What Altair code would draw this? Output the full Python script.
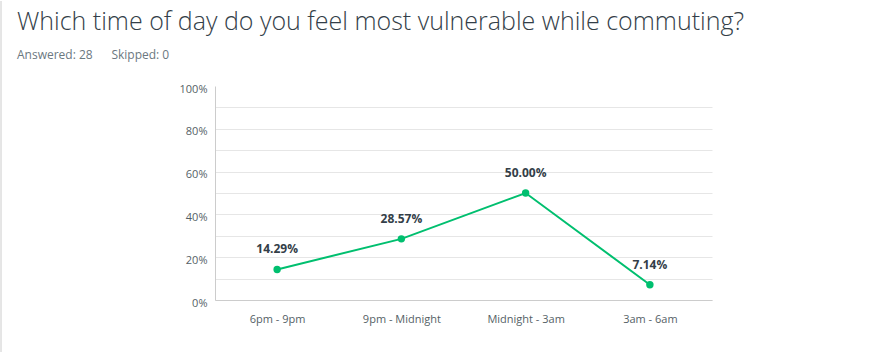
import altair as alt
import pandas as pd

categories = ["6pm - 9pm", "9pm - Midnight", "Midnight - 3am", "3am - 6am"]
values = [14.29, 28.57, 50.00, 7.14]
labels = ["14.29%", "28.57%", "50.00%", "7.14%"]

df = pd.DataFrame({"cat": categories, "val": values, "lab": labels})

FONT = "Open Sans"
GREEN = "#00bf6f"

x = alt.X("cat:N", sort=categories, title=None,
          scale=alt.Scale(paddingInner=0, paddingOuter=0),
          axis=alt.Axis(labelAngle=0, labelFontSize=11, labelColor="#555f66",
                        labelFont=FONT, ticks=False, domainColor="#cccccc",
                        labelPadding=13, grid=False))
y = alt.Y("val:Q", title=None,
          scale=alt.Scale(domain=[0, 100], nice=False),
          axis=alt.Axis(values=list(range(0, 101, 10)),
                        labelExpr="datum.value % 20 == 0 ? datum.value + '%' : ''",
                        labelFontSize=11, labelColor="#555f66", labelFont=FONT,
                        ticks=False, domainColor="#cccccc",
                        gridColor={"condition": {"test": "datum.value === 100", "value": "#ffffff"},
                                   "value": "#e6e6e6"},
                        labelPadding=8, labelOffset=3))

line = alt.Chart(df).mark_line(color=GREEN, strokeWidth=2).encode(x=x, y=y)
pts = alt.Chart(df).mark_point(color=GREEN, filled=True, size=55, opacity=1).encode(x=x, y=y)
txt = alt.Chart(df).mark_text(dy=-20, fontSize=12, fontWeight="bold", color="#333e48",
                              font=FONT).encode(x=x, y=y, text="lab:N")
border = alt.Chart(df).mark_rule(color="#e4e4e4", strokeWidth=1).encode(
    x=alt.value(-214), y=alt.value(-85), y2=alt.value(266))

chart = (border + line + pts + txt).properties(
    width=497, height=214,
    padding={"left": 215, "top": 86, "right": 183, "bottom": 52},
    autosize=alt.AutoSizeParams(type="none"),
    view=alt.ViewConfig(stroke="transparent"),
    title=alt.TitleParams(
        text="Which time of day do you feel most vulnerable while commuting?",
        subtitle="Answered: 28\u00a0\u00a0\u00a0\u00a0\u00a0\u00a0Skipped: 0",
        anchor="start", frame="group", dx=-198, offset=-60,
        font=FONT, fontSize=25, fontWeight=300, color="#333e48",
        subtitleFont=FONT, subtitleFontSize=12, subtitleColor="#6b787f",
        subtitlePadding=15,
    ),
).configure_view(stroke="transparent", strokeOpacity=0).configure(background="white")

chart.save("out.html", embed_options={"renderer": "svg", "actions": False})
